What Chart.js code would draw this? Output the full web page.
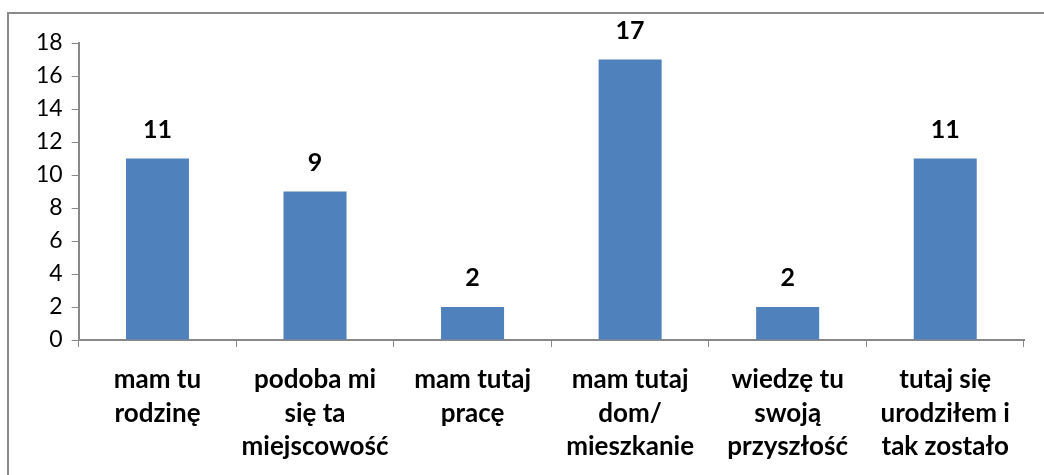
<!DOCTYPE html>
<html>
<head>
<meta charset="utf-8">
<script src="https://cdn.jsdelivr.net/npm/chart.js@4"></script>
<style>
    body { margin: 0; background: #fff; }
    #wrap { position: relative; width: 1044px; height: 475px; }
</style>
</head>
<body>
<div id="wrap"><canvas id="chart" width="1044" height="475"></canvas></div>
<script>
var categories = [
    ['mam tu', 'rodzinę'],
    ['podoba mi', 'się ta', 'miejscowość'],
    ['mam tutaj', 'pracę'],
    ['mam tutaj', 'dom/', 'mieszkanie'],
    ['wiedzę tu', 'swoją', 'przyszłość'],
    ['tutaj się', 'urodziłem i', 'tak zostało']
];
var values = [11, 9, 2, 17, 2, 11];
var yTicks = [0, 2, 4, 6, 8, 10, 12, 14, 16, 18];

var fontFamily = "Lato, 'Open Sans', sans-serif";
var axisColor = '#888888';

// frame lines on the left and top, like the original picture
var framePlugin = {
    id: 'frame',
    beforeDraw: function (chart) {
        var ctx = chart.ctx;
        ctx.save();
        ctx.fillStyle = '#ffffff';
        ctx.fillRect(0, 0, chart.width, chart.height);
        ctx.strokeStyle = '#8a8a8a';
        ctx.lineWidth = 2;
        ctx.beginPath();
        ctx.moveTo(8, chart.height);
        ctx.lineTo(8, 13);
        ctx.lineTo(chart.width, 13);
        ctx.stroke();
        ctx.restore();
    }
};

// value labels above the bars
var valueLabels = {
    id: 'valueLabels',
    afterDatasetsDraw: function (chart) {
        var ctx = chart.ctx;
        var meta = chart.getDatasetMeta(0);
        ctx.save();
        ctx.font = 'bold 25px ' + fontFamily;
        ctx.fillStyle = '#000';
        ctx.textAlign = 'center';
        ctx.textBaseline = 'middle';
        meta.data.forEach(function (bar, i) {
            ctx.fillText(values[i], bar.x, bar.y - 29);
        });
        ctx.restore();
    }
};

var ctx = document.getElementById('chart').getContext('2d');
var chart = new Chart(ctx, {
    type: 'bar',
    data: {
        labels: categories,
        datasets: [{
            data: values,
            backgroundColor: '#4F81BD',
            categoryPercentage: 1,
            barPercentage: 0.4
        }]
    },
    options: {
        responsive: false,
        animation: false,
        layout: { padding: { left: 27, right: 20, top: 43, bottom: 0 } },
        plugins: {
            legend: { display: false },
            tooltip: { enabled: false }
        },
        scales: {
            x: {
                offset: true,
                afterFit: function (scale) {
                    scale.height = 135;
                },
                grid: {
                    display: true,
                    offset: true,
                    drawOnChartArea: false,
                    drawTicks: true,
                    tickLength: 7,
                    color: axisColor
                },
                border: { color: axisColor, width: 2 },
                ticks: {
                    color: '#000',
                    padding: 16,
                    maxRotation: 0,
                    autoSkip: false,
                    font: { family: fontFamily, size: 26, weight: 'bold', lineHeight: 1.29 }
                }
            },
            y: {
                min: 0,
                max: 18,
                afterBuildTicks: function (axis) {
                    axis.ticks = yTicks.map(function (v) { return { value: v }; });
                },
                grid: {
                    display: true,
                    drawOnChartArea: false,
                    drawTicks: true,
                    tickLength: 7,
                    color: axisColor
                },
                border: { color: axisColor, width: 2 },
                ticks: {
                    color: '#000',
                    padding: 9,
                    font: { family: fontFamily, size: 23 }
                }
            }
        }
    },
    plugins: [framePlugin, valueLabels]
});
</script>
</body>
</html>
